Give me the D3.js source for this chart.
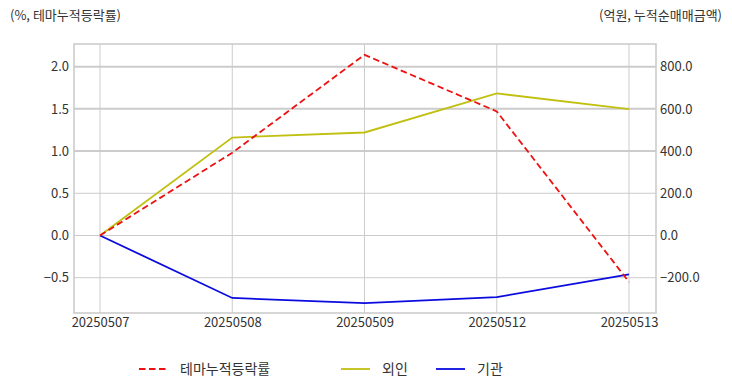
<!DOCTYPE html>
<html><head><meta charset="utf-8">
<script src="https://cdn.jsdelivr.net/npm/d3@7"></script>
<style>
body{margin:0;background:#fff;}
text{font-family:"Noto Sans CJK KR","Noto Sans",sans-serif;}
</style></head>
<body><svg id="c" width="732" height="392"></svg>
<script>
const dates = ["20250507","20250508","20250509","20250512","20250513"];
const themeRate = [0.0, 0.98, 2.14, 1.47, -0.55];
const foreign = [0, 464, 488, 673, 599];
const inst = [0, -296, -320, -292, -184];
const leftTicks = [-0.5, 0.0, 0.5, 1.0, 1.5, 2.0];
const rightTicks = [-200, 0, 200, 400, 600, 800];
const seriesNames = ["테마누적등락률", "외인", "기관"];
const colors = ["#ee1111", "#c0c010", "#0b0be0"];

const svg = d3.select("#c");
const L = 74, R = 656, T = 44, B = 313;
const x = d3.scalePoint().domain(dates).range([100, 629]);
const yL = d3.scaleLinear().domain([-0.918, 2.268]).range([B, T]);
const yR = d3.scaleLinear().domain([-367.2, 907.2]).range([B, T]);

// grids
const g = svg.append("g");
g.selectAll(".hg").data(leftTicks).join("line")
  .attr("x1", L).attr("x2", R)
  .attr("y1", d => yL(d)).attr("y2", d => yL(d))
  .attr("stroke", "#cccccc").attr("stroke-width", d => d >= 1 ? 2 : 1);
g.selectAll(".vg").data(dates).join("line")
  .attr("x1", d => x(d)).attr("x2", d => x(d))
  .attr("y1", T).attr("y2", B)
  .attr("stroke", "#cccccc").attr("stroke-width", 1);
svg.append("rect").attr("x", L).attr("y", T).attr("width", R - L).attr("height", B - T)
  .attr("fill", "none").attr("stroke", "#cccccc").attr("stroke-width", 1.6);

// axes
const axL = d3.axisLeft(yL).tickValues(leftTicks).tickFormat(d3.format(".1f")).tickSize(0).tickPadding(5);
const axR = d3.axisRight(yR).tickValues(rightTicks).tickFormat(d3.format(".1f")).tickSize(0).tickPadding(4);
const axB = d3.axisBottom(x).tickSize(0).tickPadding(5);
function style(sel){ sel.select(".domain").remove(); sel.selectAll("text").attr("fill","#333").style("font-size","13px"); }
svg.append("g").attr("transform", `translate(${L},0)`).call(axL).call(style);
svg.append("g").attr("transform", `translate(${R},0)`).call(axR).call(style);
svg.append("g").attr("transform", `translate(0,${B})`).call(axB).call(style);

// lines
const lineL = d3.line().x((d,i) => x(dates[i])).y(d => yL(d));
const lineR = d3.line().x((d,i) => x(dates[i])).y(d => yR(d));
svg.append("path").attr("d", lineR(foreign)).attr("fill","none").attr("stroke", colors[1]).attr("stroke-width", 1.8);
svg.append("path").attr("d", lineR(inst)).attr("fill","none").attr("stroke", colors[2]).attr("stroke-width", 1.8);
svg.append("path").attr("d", lineL(themeRate)).attr("fill","none").attr("stroke", colors[0]).attr("stroke-width", 1.8).attr("stroke-dasharray", "6.5,3.5");

// titles
svg.append("text").attr("x", 10).attr("y", 20).attr("fill", "#333").style("font-size", "13px").text("(%, 테마누적등락률)");
svg.append("text").attr("x", 722).attr("y", 20).attr("text-anchor", "end").attr("fill", "#333").style("font-size", "13px").text("(억원, 누적순매매금액)");

// legend
const leg = [{x1:139,tx:180,i:0,dash:"6.5,3.5"},{x1:341,tx:382,i:1,dash:null},{x1:436,tx:477,i:2,dash:null}];
const lg = svg.append("g");
leg.forEach(o => {
  lg.append("line").attr("x1", o.x1).attr("x2", o.x1 + 29).attr("y1", 369).attr("y2", 369)
    .attr("stroke", colors[o.i]).attr("stroke-width", 1.8).attr("stroke-dasharray", o.dash);
  lg.append("text").attr("x", o.tx).attr("y", 374).attr("fill", "#333").style("font-size", "14px").text(seriesNames[o.i]);
});
</script></body></html>
